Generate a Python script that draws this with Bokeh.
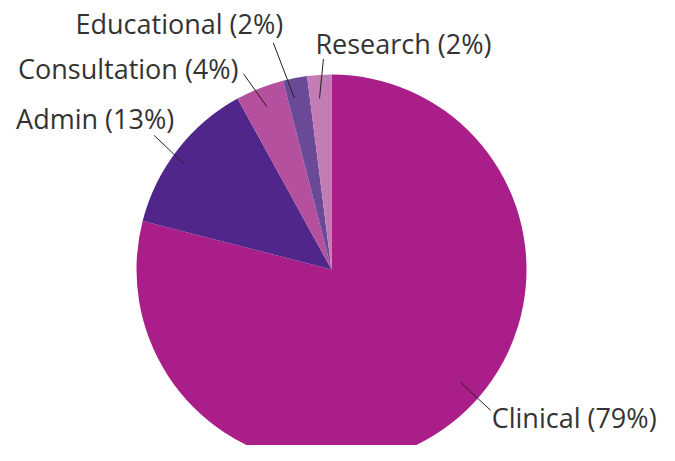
import math
from bokeh.plotting import figure
from bokeh.models import Range1d, ColumnDataSource
from bokeh.core.properties import value
from bokeh.embed import file_html
from bokeh.resources import INLINE

# ---- data ----
categories = ["Clinical", "Admin", "Consultation", "Educational", "Research"]
percents = [79, 13, 4, 2, 2]
colors = ["#AA1E8A", "#51268A", "#B4509E", "#6A4A96", "#C47CB4"]

# ---- layout (label leader lines / text placement) ----
inner_shift = [11.0, 2.2, 0.1, 1.4, 0.4]      # degrees added to mid angle
outer_shift = [10.7, 0.7, 2.6, 3.6, -1.4]
inner_frac = [0.88, 0.93, 0.90, 0.90, 0.88]
outer_frac = [1.09, 1.14, 1.10, 1.20, 1.08]
text_align = ["left", "right", "right", "right", "left"]
text_dx = [1, 20, -5, 10, -8]
text_dy = [7, -17, -5, -19, -16]

R = 195
W, H = 659, 445
cx, cy = 331, 269  # pie centre in figure pixels (from top-left)

p = figure(width=W, height=H, output_backend="svg", toolbar_location=None,
           x_range=Range1d(-cx, W - cx), y_range=Range1d(cy - H, cy),
           min_border=0)
p.axis.visible = False
p.grid.visible = False
p.outline_line_color = None
p.background_fill_color = "white"
p.border_fill_color = "white"

total = float(sum(percents))
starts, ends, mids = [], [], []
cum = 0.0
for v in percents:
    a0 = math.pi / 2 - 2 * math.pi * cum / total
    cum += v
    a1 = math.pi / 2 - 2 * math.pi * cum / total
    starts.append(a0)
    ends.append(a1)
    mids.append((a0 + a1) / 2)

src = ColumnDataSource(dict(start=starts, end=ends, color=colors))
p.wedge(x=0, y=0, radius=R, start_angle="start", end_angle="end",
        direction="clock", fill_color="color", line_color=None, source=src)

xs, ys, tx, ty, labels = [], [], [], [], []
for i, cat in enumerate(categories):
    ai = mids[i] + math.radians(inner_shift[i])
    ao = mids[i] + math.radians(outer_shift[i])
    x0, y0 = R * inner_frac[i] * math.cos(ai), R * inner_frac[i] * math.sin(ai)
    x1, y1 = R * outer_frac[i] * math.cos(ao), R * outer_frac[i] * math.sin(ao)
    xs.append([x0, x1])
    ys.append([y0, y1])
    tx.append(x1)
    ty.append(y1)
    labels.append(f"{cat} ({percents[i]}%)")

p.multi_line(xs=xs, ys=ys, line_color="#222222", line_width=1)

for i in range(len(categories)):
    p.text(x=[tx[i]], y=[ty[i]], text=[labels[i]], text_align=text_align[i],
           text_baseline="alphabetic", x_offset=text_dx[i], y_offset=text_dy[i],
           text_font=value("Open Sans"), text_font_size="27px", text_color="#333333")

open("out.html", "w").write(file_html(p, INLINE))
